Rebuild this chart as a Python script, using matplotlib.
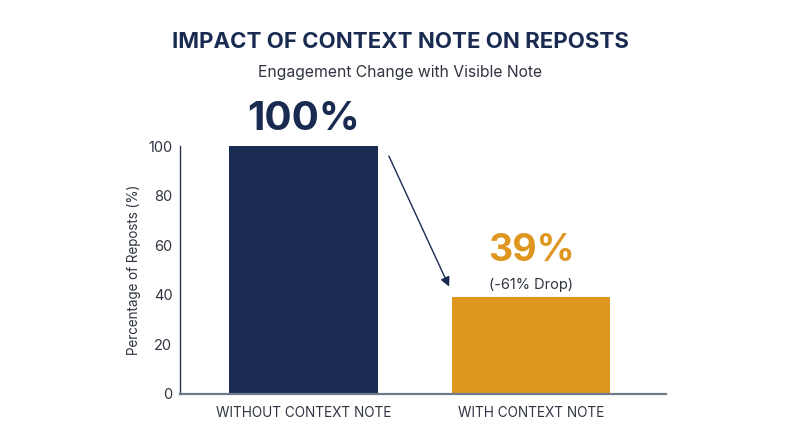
import matplotlib
matplotlib.use("Agg")
import matplotlib.pyplot as plt

categories = ["WITHOUT CONTEXT NOTE", "WITH CONTEXT NOTE"]
values = [100, 39]
value_labels = ["100%", "39%"]
drop_label = "(-61% Drop)"
yticks = [0, 20, 40, 60, 80, 100]
title = "IMPACT OF CONTEXT NOTE ON REPOSTS"
subtitle = "Engagement Change with Visible Note"
ylabel = "Percentage of Reposts (%)"

NAVY = "#1a2b52"
ORANGE = "#de9620"
TEXT = "#2f3440"

plt.rcParams["font.family"] = ["Inter", "DejaVu Sans"]

fig = plt.figure(figsize=(8, 4.47), dpi=100)
ax = fig.add_axes([0.225, 0.1186, 0.6075, 0.5545])

x = list(range(len(categories)))
ax.bar(x, values, width=[0.655, 0.695], color=[NAVY, ORANGE], zorder=2)
ax.set_xlim(-0.543, 1.593)
ax.set_ylim(0, 100)
ax.set_yticks(yticks)
ax.set_xticks(x)
ax.set_xticklabels(categories)
ax.tick_params(axis="both", length=0, colors=TEXT)
ax.tick_params(axis="x", pad=9, labelsize=9.8)
ax.tick_params(axis="y", pad=5.5, labelsize=10.5)
ax.set_ylabel(ylabel, fontsize=9.7, color=TEXT, labelpad=5)

for s in ["top", "right"]:
    ax.spines[s].set_visible(False)
ax.spines["left"].set_color("#2c3650")
ax.spines["left"].set_linewidth(1.0)
ax.spines["bottom"].set_color("#6f7b8a")
ax.spines["bottom"].set_linewidth(1.6)

ax.annotate(value_labels[0], xy=(x[0], values[0]), xytext=(0, 6), textcoords="offset points",
            ha="center", va="bottom", fontsize=29, fontweight="bold", color=NAVY, annotation_clip=False)
ax.annotate(value_labels[1], xy=(x[1], values[1]), xytext=(0, 20.5), textcoords="offset points",
            ha="center", va="bottom", fontsize=27, fontweight="bold", color=ORANGE, annotation_clip=False)
ax.annotate(drop_label, xy=(x[1], values[1]), xytext=(0, 4), textcoords="offset points",
            ha="center", va="bottom", fontsize=10.5, color=TEXT, annotation_clip=False)

ax.annotate("", xy=(x[1] - 0.355, values[1] + 3.3), xytext=(x[0] + 0.37, values[0] - 3),
            arrowprops=dict(arrowstyle="-|>", color=NAVY, lw=1.0, mutation_scale=14))

fig.text(0.5, 0.905, title, ha="center", va="center", fontsize=16, fontweight="bold", color=NAVY)
fig.text(0.5, 0.837, subtitle, ha="center", va="center", fontsize=11.3, color=TEXT)

fig.savefig("out.png", dpi=100, facecolor="white")
